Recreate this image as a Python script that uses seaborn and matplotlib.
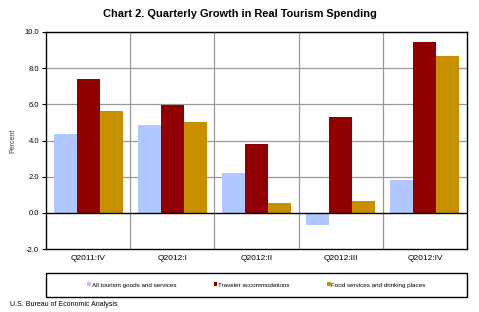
import matplotlib
matplotlib.use("Agg")
import matplotlib.pyplot as plt
from matplotlib.patches import Rectangle
import pandas as pd
import seaborn as sns

# quarters and growth rates (percent)
quarters = ["Q2011:IV", "Q2012:I", "Q2012:II", "Q2012:III", "Q2012:IV"]
all_tourism = [4.35, 4.85, 2.2, -0.65, 1.8]
traveler_accom = [7.4, 5.95, 3.8, 5.3, 9.45]
food_services = [5.65, 5.0, 0.55, 0.65, 8.65]
series_names = ["All tourism goods and services", "Traveler accommodations",
                "Food services and drinking places"]
colors = ["#B0C8FF", "#900000", "#C89000"]

df = pd.DataFrame({
    "quarter": quarters * 3,
    "value": all_tourism + traveler_accom + food_services,
    "series": [series_names[0]] * 5 + [series_names[1]] * 5 + [series_names[2]] * 5,
})

sns.set_style("white")
plt.rcParams["font.family"] = ["Liberation Sans", "DejaVu Sans"]
plt.rcParams["text.color"] = "black"
plt.rcParams["xtick.color"] = "black"
plt.rcParams["ytick.color"] = "black"

fig = plt.figure(figsize=(4.79, 3.12), dpi=100)
ax = fig.add_axes([46 / 479, 1 - 249 / 312, 421 / 479, 217 / 312])

sns.barplot(data=df, x="quarter", y="value", hue="series", palette=colors,
            width=0.82, saturation=1, ax=ax, legend=True, linewidth=0,
            edgecolor="none")

ax.set_ylim(-2, 10)
ax.set_xlim(-0.5, 4.5)
ax.set_yticks([-2, 0, 2, 4, 6, 8, 10])
ax.set_yticklabels([f"{v:.1f}" for v in [-2, 0, 2, 4, 6, 8, 10]], fontsize=5.5)
ax.set_xticks(range(5))
ax.set_xticklabels(quarters, fontsize=6)
ax.tick_params(axis="y", length=3, width=0.8, pad=2, direction="out", left=True)
ax.tick_params(axis="x", length=0, pad=4)
ax.set_xlabel("")
ax.set_ylabel("Percent", fontsize=5, color="#1F3A6E", labelpad=6)

# grid lines
for v in [2, 4, 6, 8]:
    ax.axhline(v, color="#999999", lw=0.9, zorder=0)
for x in [0.5, 1.5, 2.5, 3.5]:
    ax.axvline(x, color="#999999", lw=0.9, zorder=0)
ax.axhline(0, color="black", lw=1.0, zorder=3)
for s in ax.spines.values():
    s.set_color("black")
    s.set_linewidth(1.0)
    s.set_visible(True)

# legend box below the axes
box_y, box_h = -0.221, 0.111
ax.add_patch(Rectangle((0, box_y), 1.0, box_h, transform=ax.transAxes,
                       fill=False, edgecolor="black", lw=1.0, clip_on=False))
ax.legend(loc="center", bbox_to_anchor=(0.5, box_y + box_h / 2),
          ncol=3, fontsize=4.5, frameon=False,
          handlelength=0.6, handleheight=0.6, handletextpad=0.1,
          columnspacing=6.0)

fig.text(0.5, 1 - 14 / 312, "Chart 2. Quarterly Growth in Real Tourism Spending",
         ha="center", va="center", fontsize=7.9, fontweight="bold")
fig.text(10 / 479, 1 - 304 / 312, "U.S. Bureau of Economic Analysis",
         ha="left", va="center", fontsize=5)

fig.savefig("out.png", dpi=100)
